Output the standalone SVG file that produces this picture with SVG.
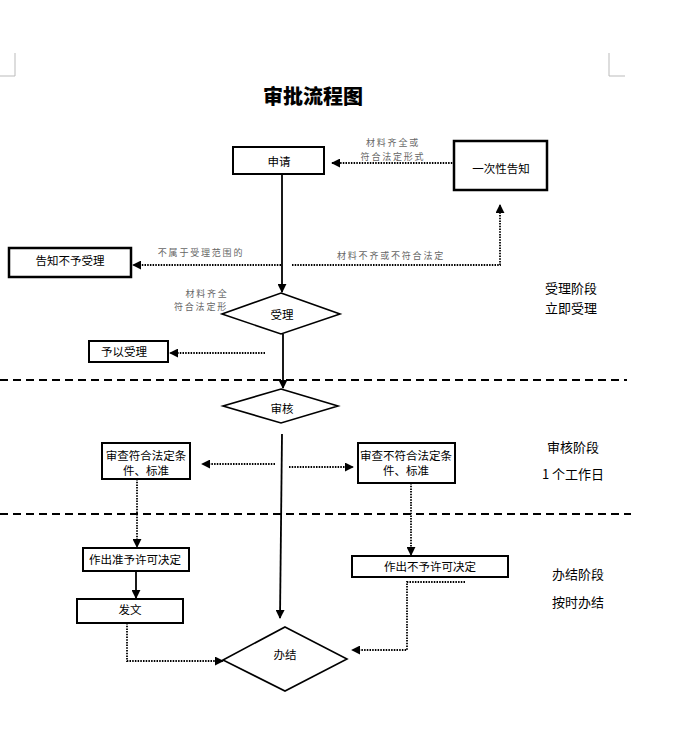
<svg xmlns="http://www.w3.org/2000/svg" width="673" height="748" viewBox="0 0 673 748">
<defs>
<marker id="ah" viewBox="0 0 10 10" refX="9" refY="5" markerWidth="9" markerHeight="9" markerUnits="userSpaceOnUse" orient="auto">
<path d="M0,0 L10,5 L0,10 z" fill="#000"/>
</marker>
</defs>
<style>
.box{fill:#fff;stroke:#000;stroke-width:2}
.thick{stroke-width:2.5}
.dia{fill:#fff;stroke:#000;stroke-width:1.6}
.t{font-family:"Noto Sans CJK SC","Liberation Sans",sans-serif;font-size:11.5px;fill:#000;text-anchor:middle;dominant-baseline:central}
.lab{font-family:"Noto Sans CJK SC","Liberation Sans",sans-serif;font-size:9px;fill:#666;text-anchor:middle;letter-spacing:1.8px}
.side{font-family:"Noto Sans CJK SC","Liberation Sans",sans-serif;font-size:13px;fill:#000;text-anchor:middle;dominant-baseline:central}
.solid{fill:none;stroke:#000;stroke-width:1.8}
.dot{fill:none;stroke:#000;stroke-width:1.8;stroke-dasharray:1.5 1.2}
.dash{fill:none;stroke:#000;stroke-width:2;stroke-dasharray:8 5}
.corner{fill:none;stroke:#bbb;stroke-width:1}
</style>
<rect width="673" height="748" fill="#fff"/>
<g id="corners">
<path class="corner" d="M15,53 V76 H0"/>
<path class="corner" d="M609,53 V76 H625"/>
</g>
<text x="313" y="95" font-family="'Noto Sans CJK SC',sans-serif" font-size="20" font-weight="900" text-anchor="middle" dominant-baseline="central">审批流程图</text>
<g id="dividers">
<line class="dash" x1="0" y1="380" x2="627" y2="380"/>
<line class="dash" x1="0" y1="514" x2="631" y2="514"/>
</g>
<g id="connectors">
<line class="dot" x1="455" y1="163" x2="332" y2="163" marker-end="url(#ah)"/>
<line class="solid" x1="282" y1="174" x2="282" y2="292" marker-end="url(#ah)"/>
<line class="dot" x1="281" y1="265" x2="133" y2="265" marker-end="url(#ah)"/>
<path class="dot" d="M292,265 H500 V205" marker-end="url(#ah)"/>
<line class="dot" x1="265" y1="353" x2="170" y2="353" marker-end="url(#ah)"/>
<line class="solid" x1="283" y1="334" x2="283" y2="388" marker-end="url(#ah)"/>
<line class="solid" x1="282" y1="434" x2="280" y2="618" marker-end="url(#ah)"/>
<line class="dot" x1="275" y1="464" x2="202" y2="464" marker-end="url(#ah)"/>
<line class="dot" x1="289" y1="467" x2="353" y2="467" marker-end="url(#ah)"/>
<line class="dot" x1="137" y1="479" x2="137" y2="547" marker-end="url(#ah)"/>
<line class="solid" x1="136" y1="571" x2="136" y2="598" marker-end="url(#ah)"/>
<path class="dot" d="M127,623 V661 H223" marker-end="url(#ah)"/>
<line class="dot" x1="411" y1="483" x2="411" y2="555" marker-end="url(#ah)"/>
<path class="dot" d="M465,582 H407 V650 H352" marker-end="url(#ah)"/>
</g>
<g id="labels">
<text class="lab" x="393" y="146">材料齐全或</text>
<text class="lab" x="393" y="160">符合法定形式</text>
<text class="lab" x="201" y="256">不属于受理范围的</text>
<text class="lab" x="391" y="259">材料不齐或不符合法定</text>
<text class="lab" x="207" y="297">材料齐全</text>
<text class="lab" x="201" y="310">符合法定形</text>
</g>
<g id="n-shenqing"><rect class="box" x="233" y="147" width="91" height="27"/><text class="t" x="279" y="161">申请</text></g>
<g id="n-yicixing"><rect class="box thick" x="454" y="141" width="93" height="49"/><text class="t" x="501" y="168">一次性告知</text></g>
<g id="n-gaozhi"><rect class="box thick" x="9" y="248" width="122" height="29"/><text class="t" x="70" y="260">告知不予受理</text></g>
<g id="n-shouli"><polygon class="dia" points="281,293 340,314 281,334 222,314"/><text class="t" x="282" y="314">受理</text></g>
<g id="n-yiyi"><rect class="box" x="89" y="341" width="79" height="21"/><text class="t" x="124" y="351">予以受理</text></g>
<g id="n-shenhe"><polygon class="dia" points="281,389 338,406 281,423 223,406"/><text class="t" x="282" y="408">审核</text></g>
<g id="n-fuhe"><rect class="box" x="102" y="443" width="88" height="36"/><text class="t" x="146" y="455">审查符合法定条</text><text class="t" x="146" y="470">件、标准</text></g>
<g id="n-bufuhe"><rect class="box" x="358" y="443" width="97" height="40"/><text class="t" x="406" y="455">审查不符合法定条</text><text class="t" x="406" y="470">件、标准</text></g>
<g id="n-zhunyu"><rect class="box" x="83" y="548" width="106" height="23"/><text class="t" x="135" y="559">作出准予许可决定</text></g>
<g id="n-fawen"><rect class="box" x="77" y="599" width="106" height="24"/><text class="t" x="130" y="609">发文</text></g>
<g id="n-buyu"><rect class="box" x="352" y="556" width="156" height="21"/><text class="t" x="430" y="566">作出不予许可决定</text></g>
<g id="n-banjie"><polygon class="dia" points="285,627 347,659 285,691 223,660"/><text class="t" x="285" y="654">办结</text></g>
<g id="side">
<text class="side" x="571" y="287">受理阶段</text>
<text class="side" x="571" y="307">立即受理</text>
<text class="side" x="573" y="446">审核阶段</text>
<text class="side" x="573" y="473">1 个工作日</text>
<text class="side" x="578" y="573">办结阶段</text>
<text class="side" x="578" y="601">按时办结</text>
</g>
</svg>
